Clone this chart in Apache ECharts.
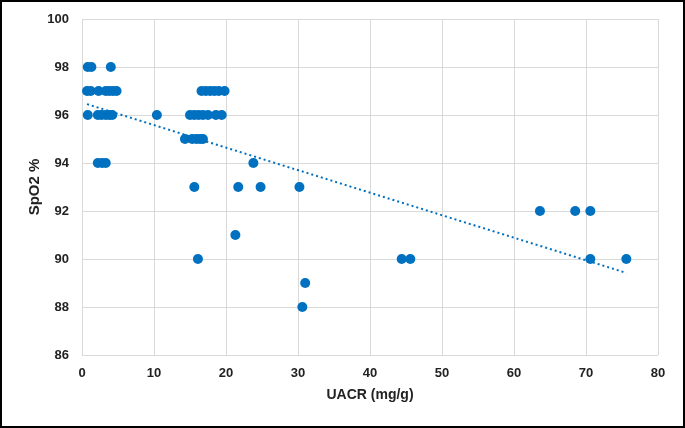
<!DOCTYPE html>
<html><head><meta charset="utf-8">
<script src="https://cdn.jsdelivr.net/npm/echarts@6/dist/echarts.min.js"></script>
<style>html,body{margin:0;padding:0;background:#fff}#c{width:685px;height:428px;box-sizing:border-box;border:2px solid #000}</style>
</head><body><div id="c"></div>
<script>
const uacr = [0.8,1.3,4.0,
  0.7,1.2,2.3,3.3,3.8,4.3,4.8,16.6,17.2,17.8,18.4,19.0,19.8,
  0.8,2.2,2.7,3.3,3.8,4.2,10.4,15.0,15.6,16.2,16.8,17.5,18.6,19.4,
  14.3,15.3,15.9,16.4,16.8,
  2.2,2.8,3.3,23.8,
  15.6,21.7,24.8,30.2,
  21.3,
  16.1,44.4,45.6,70.6,75.6,
  31.0,30.6,
  63.6,68.5,70.6];
const spo2 = [98,98,98,
  97,97,97,97,97,97,97,97,97,97,97,97,97,
  96,96,96,96,96,96,96,96,96,96,96,96,96,96,
  95,95,95,95,95,
  94,94,94,94,
  93,93,93,93,
  91,
  90,90,90,90,90,
  89,88,
  92,92,92];
const xTicks = [0,10,20,30,40,50,60,70,80];
const yTicks = [86,88,90,92,94,96,98,100];

const pts = uacr.map((x,i)=>[x,spo2[i]]);
const n = pts.length;
const mx = uacr.reduce((a,b)=>a+b,0)/n, my = spo2.reduce((a,b)=>a+b,0)/n;
let sxy=0,sxx=0; for(let i=0;i<n;i++){sxy+=(uacr[i]-mx)*(spo2[i]-my);sxx+=(uacr[i]-mx)**2;}
const b = sxy/sxx, a = my-b*mx;
const xmin=Math.min(...uacr), xmax=Math.max(...uacr);
const trend=[[xmin,a+b*xmin],[xmax,a+b*xmax]];

const font='"Liberation Sans", Arial, sans-serif';
const chart = echarts.init(document.getElementById('c'));
chart.setOption({
  animation:false,
  grid:{left:80,right:25,top:17,bottom:71},
  xAxis:{type:'value',min:xTicks[0],max:xTicks[xTicks.length-1],interval:10,
    name:'UACR (mg/g)',nameLocation:'middle',nameGap:33,
    nameTextStyle:{fontFamily:font,fontWeight:'bold',fontSize:14,color:'#222'},
    axisLine:{show:false},axisTick:{show:false},
    axisLabel:{fontFamily:font,fontWeight:'bold',fontSize:13,color:'#222',margin:12},
    splitLine:{show:true,lineStyle:{color:'#d9d9d9',width:1}}},
  yAxis:{type:'value',min:yTicks[0],max:yTicks[yTicks.length-1],interval:2,
    name:'SpO2 %',nameLocation:'middle',nameGap:40,nameRotate:90,nameMoveOverlap:false,
    nameTextStyle:{fontFamily:font,fontWeight:'bold',fontSize:15,color:'#222'},
    axisLine:{show:false},axisTick:{show:false},
    axisLabel:{fontFamily:font,fontWeight:'bold',fontSize:13,color:'#222',margin:13},
    splitLine:{show:true,lineStyle:{color:'#d9d9d9',width:1}}},
  series:[
    {type:'scatter',data:pts,symbolSize:10,itemStyle:{color:'#0070C0',opacity:1}},
    {type:'line',data:trend,symbol:'none',lineStyle:{color:'#0070C0',width:2,type:[2,3]},z:1}
  ]
});
</script></body></html>
